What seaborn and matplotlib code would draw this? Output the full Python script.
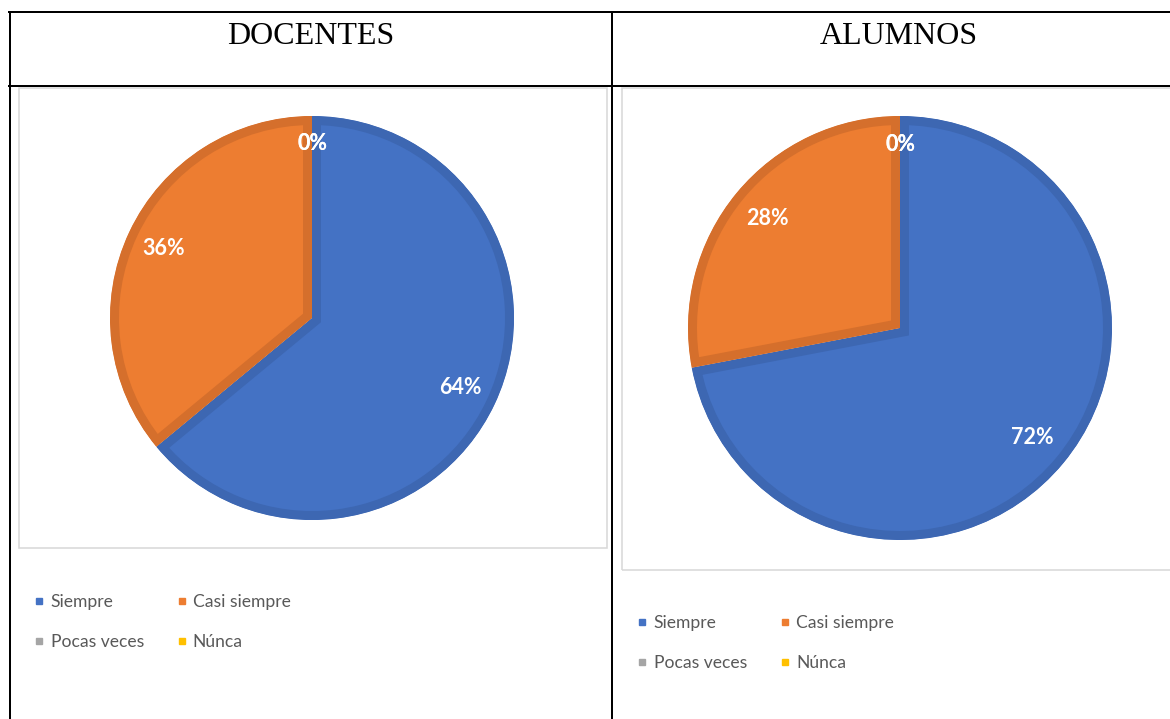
import matplotlib
matplotlib.use("Agg")
import matplotlib.pyplot as plt
from matplotlib.lines import Line2D
from matplotlib.patches import Rectangle
import seaborn as sns

# Survey answers (percent of respondents)
categories = ["Siempre", "Casi siempre", "Pocas veces", "Núnca"]
docentes_pct = [64, 36, 0, 0]
alumnos_pct = [72, 28, 0, 0]
panel_titles = ["DOCENTES", "ALUMNOS"]

sns.set_theme(style="white")
plt.rcParams["font.family"] = ["Lato", "DejaVu Sans"]

fill_colors = sns.color_palette(["#4472C4", "#ED7D31", "#A5A5A5", "#FFC000"])
band_colors = ["#3D67B2", "#D56F2C", "#959595", "#E6AD00"]

W, H, DPI = 1170, 719, 100
PX = 72 / DPI  # points per pixel

fig = plt.figure(figsize=(W / DPI, H / DPI), dpi=DPI)
fig.patch.set_facecolor("white")


def fx(px):
    return px / W


def fy(py):
    return 1 - py / H


def rule(x0, y0, x1, y1, color="black", lw=2):
    fig.add_artist(Line2D([fx(x0), fx(x1)], [fy(y0), fy(y1)], color=color,
                          lw=lw * PX, transform=fig.transFigure,
                          solid_capstyle="projecting"))


# table grid
rule(9, 12, 1175, 12)
rule(9, 86, 1175, 86)
rule(10, 12, 10, 725)
rule(612, 12, 612, 725)

# header cells
for title, cx in zip(panel_titles, [311, 899]):
    fig.text(fx(cx), fy(44), title, ha="center", va="baseline",
             fontsize=23, family="Liberation Serif", color="black")


def chart_frame(x0, y0, x1, y1):
    fig.add_artist(Rectangle((fx(x0), fy(y1)), fx(x1) - fx(x0), fy(y0) - fy(y1),
                             transform=fig.transFigure, facecolor="none",
                             edgecolor="#D9D9D9", lw=1.6 * PX))


def draw_pie(values, cx, cy, r, band_px=9):
    ax = fig.add_axes([fx(cx - r), fy(cy + r), 2 * r / W, 2 * r / H])
    wedges, _, autotexts = ax.pie(
        values, colors=fill_colors, startangle=90, counterclock=False,
        radius=1, autopct=lambda p: f"{p:.0f}%", pctdistance=0.81,
        wedgeprops=dict(linewidth=2 * band_px * PX),
        textprops=dict(color="white", fontsize=15.5, fontweight="bold"))
    # darker inner band: stroke each wedge and keep only the half inside it
    for w, v, bc in zip(wedges, values, band_colors):
        w.set_edgecolor(bc)
        w.set_joinstyle("miter")
        w.set_clip_on(True)
        w.set_clip_path(w)
        if v == 0:
            w.set_visible(False)
    for t, v in zip(autotexts, values):
        if v == 0:
            t.set_position((0, 0.865))
    ax.set_xlim(-1, 1)
    ax.set_ylim(-1, 1)
    ax.axis("off")
    return ax


def draw_legend(x, y):
    order = [0, 2, 1, 3]
    handles = [Line2D([], [], marker="s", linestyle="none", markersize=5,
                      color=fill_colors[i]) for i in order]
    labels = [categories[i] for i in order]
    fig.legend(handles, labels, ncol=2, loc="upper left",
               bbox_to_anchor=(fx(x), fy(y)), frameon=False, fontsize=12.6,
               handlelength=0.6, handletextpad=0.35, columnspacing=1.85,
               labelspacing=1.36, borderpad=0, borderaxespad=0,
               labelcolor="#595959")


chart_frame(19, 88, 607, 548)
chart_frame(622, 88, 1180, 570)

draw_pie(docentes_pct, 312, 318, 202)
draw_pie(alumnos_pct, 900, 328, 212)

draw_legend(34, 594)
draw_legend(637, 615)

fig.savefig("out.png", dpi=DPI, facecolor="white")
